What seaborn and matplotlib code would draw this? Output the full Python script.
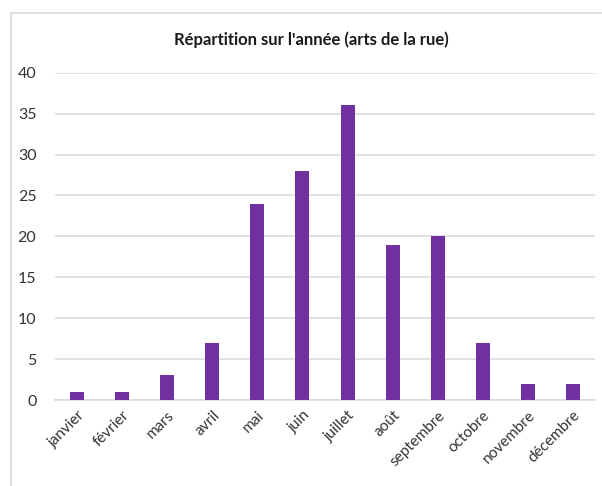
import matplotlib
matplotlib.use("Agg")
import matplotlib.pyplot as plt
import seaborn as sns
import pandas as pd
from matplotlib.patches import Rectangle

months = ["janvier", "février", "mars", "avril", "mai", "juin", "juillet",
          "août", "septembre", "octobre", "novembre", "décembre"]
counts = [1, 1, 3, 7, 24, 28, 36, 19, 20, 7, 2, 2]
yticks = [0, 5, 10, 15, 20, 25, 30, 35, 40]
title = "Répartition sur l'année (arts de la rue)"

sns.set_theme(style="white")
plt.rcParams['font.family'] = ['Lato', 'DejaVu Sans']

df = pd.DataFrame({"mois": months, "n": counts})

fig = plt.figure(figsize=(6.02, 4.86), dpi=100)
# outer chart border (left and top visible)
fig.patches.append(Rectangle((11/602, -0.1), 2.0, (1 - 13/486) + 0.1,
                             transform=fig.transFigure, fill=False,
                             edgecolor="#d9d9d9", linewidth=1.2, zorder=0))
ax = fig.add_axes([54.5/602, 1 - 400/486, 541/602, (400 - 72.7)/486])

sns.barplot(data=df, x="mois", y="n", color="#7030A0", saturation=1,
            width=0.31, ax=ax, zorder=3, linewidth=0, edgecolor="none")

ax.set_ylim(0, 40)
ax.set_yticks(yticks)
ax.set_yticklabels([str(v) for v in yticks], fontsize=11.5, color="#333333")
ax.set_xlim(-0.5, len(months) - 0.5)
ax.set_xticks(range(len(months)))
ax.set_xticklabels(months, rotation=45, ha="right", rotation_mode="anchor",
                   fontsize=11, color="#333333")
ax.set_xlabel("")
ax.set_ylabel("")
ax.grid(axis="y", color="#d9d9d9", linewidth=1.1, zorder=0)
ax.set_axisbelow(True)
for s in ["left", "right", "top"]:
    ax.spines[s].set_visible(False)
ax.spines["bottom"].set_color("#d9d9d9")
ax.spines["bottom"].set_linewidth(1.1)
ax.tick_params(axis="y", length=0, pad=13)
ax.tick_params(axis="x", length=0, pad=6)

fig.text(311/602, 1 - 40/486, title, ha="center", va="center",
         fontsize=12, fontweight="bold", color="#1a1a1a")

fig.savefig("out.png", dpi=100)
